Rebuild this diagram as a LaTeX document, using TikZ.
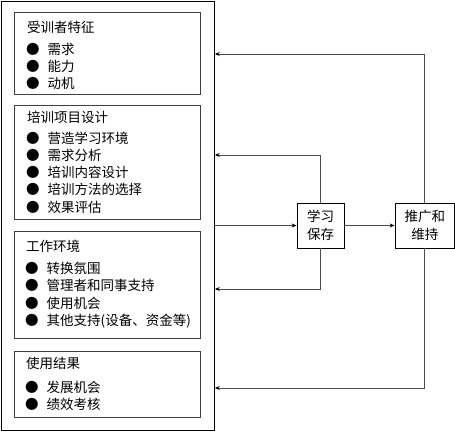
\documentclass[tikz,border=0pt]{standalone}
\usepackage{fontspec}
\setmainfont{Noto Sans CJK SC}
\usetikzlibrary{arrows.meta,positioning}

\tikzset{
	panel/.style={draw=black!75, line width=0.8pt, anchor=north west, minimum width=186pt, inner sep=0pt},
	head/.style={anchor=west, inner sep=0pt, font=\fontsize{13.5}{17}\selectfont},
	item/.style={anchor=west, inner sep=0pt, font=\fontsize{13.5}{17}\selectfont},
	stage/.style={draw, line width=0.8pt, align=center, inner sep=0pt, font=\fontsize{13.5}{18}\selectfont},
	link/.style={draw=black!70, line width=0.8pt, -{Stealth[length=5pt,width=4pt,black]}}
}

\begin{document}
\begin{tikzpicture}[x=1pt, y=-1pt]
	\useasboundingbox (0,0) rectangle (455,431);

	% left frame and its four panels
	\node[draw, line width=0.8pt, anchor=north west, minimum width=213.5pt, minimum height=429.5pt, inner sep=0pt] (frame) at (0.5,0.5) {};

	\node[panel, minimum height=82pt]	(trait)		at (14,12) {};
	\node[panel, minimum height=114pt]	(design)	at (14,105) {};
	\node[panel, minimum height=107pt]	(env)		at (14,231) {};
	\node[panel, minimum height=66pt]	(result)	at (14,351) {};

	\node[head] (traitT)	at (27,27)	{受训者特征};
	\node[head] (designT)	at (27,117)	{培训项目设计};
	\node[head] (envT)		at (26,246)	{工作环境};
	\node[head] (resultT)	at (26,363)	{使用结果};

	\foreach \t [count=\i] in {需求,能力,动机}
		\node[item] (trait\i) at (26,32+17*\i) {●\hspace{8pt}\t};
	\foreach \t [count=\i] in {营造学习环境,需求分析,培训内容设计,培训方法的选择,效果评估}
		\node[item] (design\i) at (26,121+17.2*\i) {●\hspace{8pt}\t};
	\foreach \t [count=\i] in {转换氛围,管理者和同事支持,使用机会,其他支持(设备、资金等)}
		\node[item] (env\i) at (25,250.5+17.6*\i) {●\hspace{8pt}\t};
	\foreach \t [count=\i] in {发展机会,绩效考核}
		\node[item] (result\i) at (25,370+17*\i) {●\hspace{8pt}\t};

	% right side stages
	\node[stage, minimum width=47pt, minimum height=45pt]	(retain)	at (320.5,225.5) {学习\\保存};
	\node[stage, minimum width=59.5pt, minimum height=45pt]	(spread)	at (424.75,225.5) {推广和\\维持};

	\coordinate (y1) at (0,54);
	\coordinate (y2) at (0,155);
	\coordinate (y3) at (0,289);
	\coordinate (y4) at (0,388);

	\draw[link] (frame.east |- retain.west) -- (retain.west);
	\draw[link] (retain.east) -- (spread.west);
	\draw[link] (spread.north) |- (frame.east |- y1);
	\draw[link] (retain.north) |- (frame.east |- y2);
	\draw[link] (retain.south) |- (frame.east |- y3);
	\draw[link] (spread.south) |- (frame.east |- y4);
\end{tikzpicture}
\end{document}
